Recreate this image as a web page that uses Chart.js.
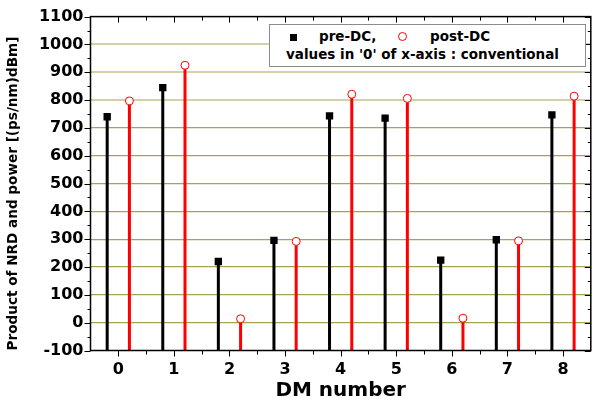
<!DOCTYPE html>
<html>
<head>
<meta charset="utf-8">
<script src="https://cdn.jsdelivr.net/npm/chart.js@4"></script>
<style>
  body { margin: 0; background: #fff; }
  #wrap { position: relative; width: 596px; height: 405px; font-family: 'DejaVu Sans', sans-serif; font-weight: bold; }
  #legendBox { position: absolute; left: 269px; top: 24px; width: 315px; height: 41px; border: 1.5px solid #8c8c8c; background: #fff; }
  .lg { position: absolute; font-size: 13.5px; line-height: 1; white-space: nowrap; color: #000; }
  .sq { position: absolute; width: 7px; height: 7px; background: #000; }
  .ci { position: absolute; width: 7px; height: 7px; border: 1px solid #ff0000; border-radius: 50%; background: #fff; }
</style>
</head>
<body>
<div id="wrap">
  <canvas id="stem" width="596" height="405"></canvas>
  <div id="legendBox"></div>
  <div class="sq" style="left:290px; top:34px;"></div>
  <span class="lg" style="left:319px; top:30px;">pre-DC,</span>
  <div class="ci" style="left:398px; top:32px;"></div>
  <span class="lg" style="left:430px; top:30px;">post-DC</span>
  <span class="lg" style="left:286px; top:48px;">values in '0' of x-axis : conventional</span>
</div>
<script>
// DM number, pre-DC and post-DC products
var dmNumbers = [0, 1, 2, 3, 4, 5, 6, 7, 8]
var preDC = [740, 845, 220, 296, 743, 735, 225, 298, 747]
var postDC = [797, 925, 14, 292, 821, 806, 16, 294, 814]
var xTicks = [0, 1, 2, 3, 4, 5, 6, 7, 8]
var yTicks = [-100, 0, 100, 200, 300, 400, 500, 600, 700, 800, 900, 1000, 1100]
var yMin = -100
var yMax = 1100

Chart.defaults.font.family = "'DejaVu Sans', sans-serif";
Chart.defaults.font.weight = 'bold';
Chart.defaults.color = '#000';

var preStems = dmNumbers.map((n, i) => ({x: n - 0.2, y: [yMin, preDC[i]]}))
var postStems = dmNumbers.map((n, i) => ({x: n + 0.2, y: [yMin, postDC[i]]}))
var prePoints = dmNumbers.map((n, i) => ({x: n - 0.2, y: preDC[i]}))
var postPoints = dmNumbers.map((n, i) => ({x: n + 0.2, y: postDC[i]}))

// frame and tick marks like the Origin plot (major + minor on all sides)
var framePlugin = {
  id: 'frame',
  afterDraw(chart) {
    var ctx = chart.ctx
    var a = chart.chartArea
    var x = chart.scales.x, y = chart.scales.y
    ctx.save()
    ctx.strokeStyle = '#000'
    ctx.lineWidth = 1
    ctx.beginPath()
    for (var v = -0.5; v <= 8.5; v += 0.5) {
      if (v == -0.5 || v == 8.5) continue
      var px = Math.round(x.getPixelForValue(v)) + 0.5
      var len = Number.isInteger(v) ? 6 : 4
      ctx.moveTo(px, a.bottom); ctx.lineTo(px, a.bottom + len)
      ctx.moveTo(px, a.top); ctx.lineTo(px, a.top + len)
    }
    for (var w = yMin; w <= yMax; w += 50) {
      var py = Math.round(y.getPixelForValue(w)) + 0.5
      var l2 = (w % 100 == 0) ? 6 : 3
      ctx.moveTo(a.left, py); ctx.lineTo(a.left - l2, py)
      ctx.moveTo(a.right, py); ctx.lineTo(a.right - l2, py)
    }
    ctx.stroke()
    ctx.lineWidth = 1.5
    ctx.strokeRect(a.left, a.top, a.right - a.left, a.bottom - a.top)
    ctx.restore()
  }
}

new Chart('stem', {
  type: 'bar',
  data: {
    datasets: [
      {
        type: 'scatter',
        label: 'pre-DC',
        data: prePoints,
        pointStyle: 'rect',
        pointRadius: 5.2,
        backgroundColor: '#000',
        borderColor: '#000',
        borderWidth: 0,
        order: 0,
      },
      {
        type: 'scatter',
        label: 'post-DC',
        data: postPoints,
        pointStyle: 'circle',
        pointRadius: 4,
        backgroundColor: '#fff',
        borderColor: '#ff0000',
        borderWidth: 1,
        order: 0,
      },
      {
        label: 'pre-DC stem',
        data: preStems,
        backgroundColor: '#000',
        maxBarThickness: 3,
        grouped: false,
        order: 1,
      },
      {
        label: 'post-DC stem',
        data: postStems,
        backgroundColor: '#ff0000',
        maxBarThickness: 3,
        grouped: false,
        order: 1,
      },
    ],
  },
  options: {
    responsive: false,
    animation: false,
    layout: {
      padding: {left: 0, right: -1, top: 15, bottom: 0},
    },
    plugins: {
      legend: {display: false},
      tooltip: {enabled: false},
    },
    scales: {
      x: {
        type: 'linear',
        min: -0.5,
        max: 8.5,
        offset: false,
        afterBuildTicks: (scale) => { scale.ticks = xTicks.map(v => ({value: v})) },
        afterFit: (scale) => { scale.height = 54.5 },
        ticks: {
          font: {size: 16, weight: 'bold'},
          padding: 10,
          maxRotation: 0,
          autoSkip: false,
          callback: (v) => String(v),
        },
        grid: {display: false, drawTicks: false, offset: false},
        border: {display: false},
        title: {
          display: true,
          text: 'DM number',
          font: {size: 20, weight: 'bold'},
          padding: {top: 0, bottom: 2},
        },
      },
      y: {
        min: yMin,
        max: yMax,
        afterBuildTicks: (scale) => { scale.ticks = yTicks.map(v => ({value: v})) },
        afterFit: (scale) => { scale.width = 90.5 },
        ticks: {
          font: {size: 16, weight: 'bold'},
          padding: 7,
          autoSkip: false,
          callback: (v) => String(v),
        },
        grid: {
          drawTicks: false,
          color: (c) => {
            var v = c.tick.value
            if (v >= 800 && v <= 1000) return '#d3d1a6'
            if (v >= 0 && v < 800) return '#a6a44c'
            return 'rgba(0,0,0,0)'
          },
          lineWidth: (c) => (c.tick.value >= 800 ? 2 : 1.2),
        },
        border: {display: false},
        title: {
          display: true,
          text: 'Product of NRD and power [(ps/nm)dBm]',
          align: 'start',
          font: {size: 13.6, weight: 'bold'},
          padding: {top: 5, bottom: 0},
        },
      },
    },
  },
  plugins: [framePlugin],
});
</script>
</body>
</html>
